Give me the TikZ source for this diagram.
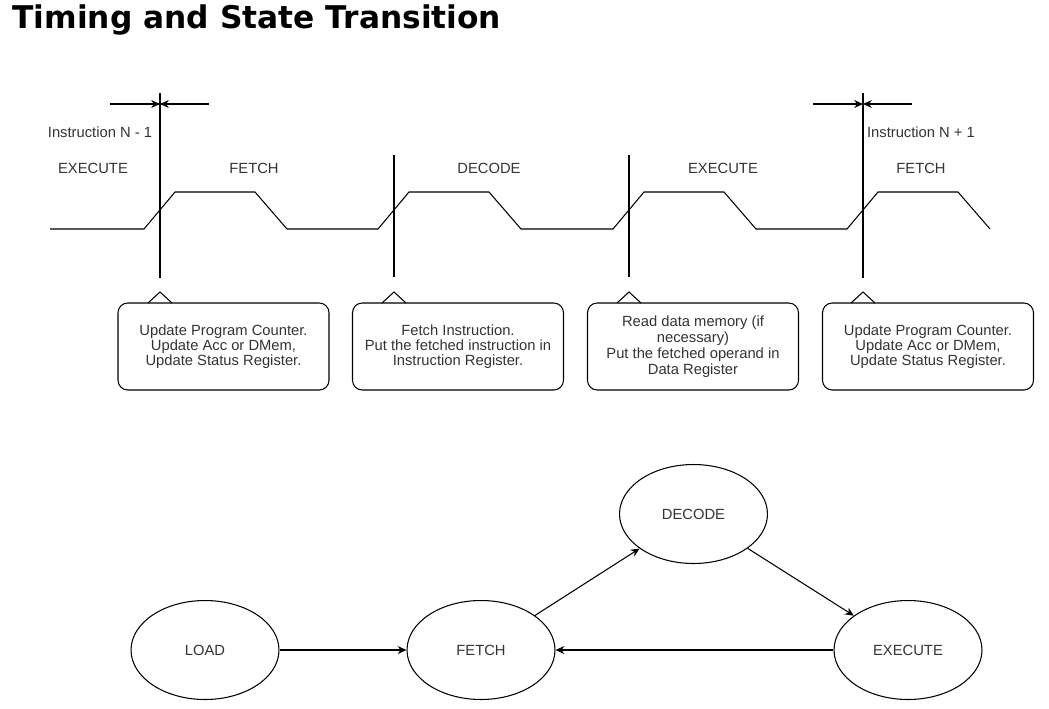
\documentclass[tikz,border=0pt]{standalone}
\usepackage{fontspec}
\setmainfont{Liberation Sans}
\newfontfamily\titlefont{DejaVu Sans}
\usetikzlibrary{arrows.meta, shapes.geometric}

\tikzset{
  state/.style={draw, ellipse, minimum width=2.96cm, minimum height=1.98cm, inner sep=0pt, font=\fontsize{8.4}{10}\selectfont},
  note/.style={draw, rounded corners=5.5pt, minimum width=4.22cm, minimum height=1.74cm, inner sep=0pt, align=center, font=\fontsize{8.4}{8.5}\selectfont},
  phase/.style={font=\fontsize{8.4}{10}\selectfont},
}

\begin{document}
\begin{tikzpicture}[x=0.02cm, y=-0.02cm, >={Stealth[length=5pt,width=4.5pt]}, line width=0.6pt, text=black!80]
\useasboundingbox (0,0) rectangle (1049,708);
% title
\node[anchor=base west, inner sep=0pt, font=\titlefont\bfseries\fontsize{17.8}{20}\selectfont, text=black] (title) at (12,28) {Timing and State Transition};

% clock
\draw (50,229) \foreach \x in {160,394,629,863} { -- (\x-16,229) -- (\x+15,192) -- (\x+95,192) -- (\x+127,229) };

% instruction boundaries
\foreach \x in {160,863}
{
    \draw (\x,93) -- (\x,278);
    \draw[->] (\x-50,104) -- (\x,104);
    \draw[->] (\x+49,104) -- (\x,104);
}
\foreach \x in {394,629}
{
    \draw (\x,155) -- (\x,277);
}
\node[phase] (prev) at (100,132) {Instruction N - 1};
\node[phase] (next) at (921,132) {Instruction N + 1};
\node[phase] (ph1) at (93,168) {EXECUTE};
\node[phase] (ph2) at (254,168) {FETCH};
\node[phase] (ph3) at (489,168) {DECODE};
\node[phase] (ph4) at (723,168) {EXECUTE};
\node[phase] (ph5) at (921,168) {FETCH};

% notes
\node[note] (pcnote) at (223.5,346.5) {Update Program Counter.\\Update Acc or DMem,\\Update Status Register.};
\node[note] (irnote) at (458,346.5) {Fetch Instruction.\\Put the fetched instruction in\\Instruction Register.};
\node[note, font=\fontsize{8.4}{9}\selectfont] (drnote) at (693,346.5) {Read data memory (if\\necessary)\\Put the fetched operand in\\Data Register};
\node[note] (pcnote2) at (928,346.5) {Update Program Counter.\\Update Acc or DMem,\\Update Status Register.};
\foreach \x in {160,394,629,863}
{
    \draw (\x-12,303) -- (\x,292) -- (\x+12,303);
}

% states
\node[state] (load) at (205,650) {LOAD};
\node[state] (fetch) at (481,650) {FETCH};
\node[state] (decode) at (693.5,514) {DECODE};
\node[state] (execute) at (908,650) {EXECUTE};
\draw[->] (load) -- (fetch);
\draw[->] (fetch) -- (decode);
\draw[->] (decode) -- (execute);
\draw[->] (execute) -- (fetch);
\end{tikzpicture}
\end{document}
